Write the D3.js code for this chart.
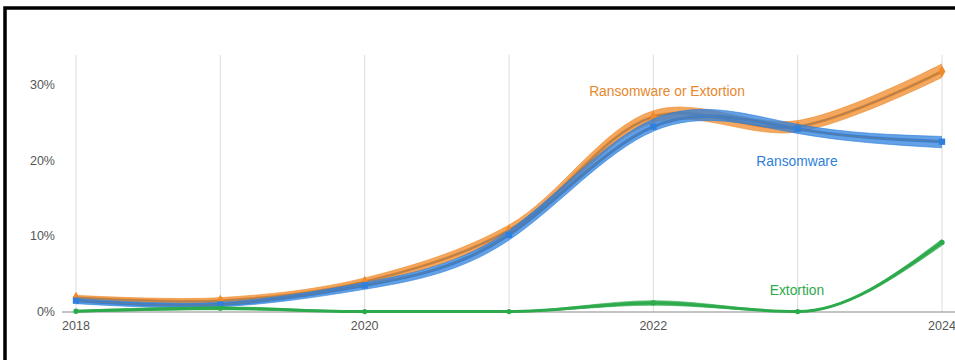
<!DOCTYPE html>
<html>
<head>
<meta charset="utf-8">
<script src="https://cdn.jsdelivr.net/npm/d3@7"></script>
<style>
  body { margin: 0; background: #fff; }
  svg { display: block; font-family: "Liberation Sans", Arial, sans-serif; }
</style>
</head>
<body>
<svg id="chart" width="955" height="360"></svg>
<script>
var years = [2018, 2019, 2020, 2021, 2022, 2023, 2024];
var yTicks = [0, 10, 20, 30];
var xTicks = [2018, 2020, 2022, 2024];

// share of incidents (%), central estimate plus a rough band
var ransomware   = [1.5, 1.0, 3.5, 10.2, 24.5, 24.2, 22.5];
var ransomwareLo = [1.1, 0.7, 3.0, 9.5, 23.9, 23.6, 21.7];
var ransomwareHi = [1.8, 1.3, 3.9, 10.8, 25.5, 24.8, 23.2];

var either   = [1.9, 1.5, 4.0, 10.8, 25.8, 24.5, 31.8];
var eitherLo = [1.6, 1.2, 3.6, 10.2, 25.0, 23.8, 31.0];
var eitherHi = [2.2, 1.9, 4.5, 11.5, 26.6, 25.3, 32.8];

var extortion   = [0.1, 0.5, 0.05, 0.05, 1.2, 0.05, 9.2];
var extortionLo = [0.0, 0.3, 0.0, 0.0, 0.9, 0.0, 8.8];
var extortionHi = [0.2, 0.7, 0.1, 0.1, 1.5, 0.1, 9.6];

var svg = d3.select('#chart');

var x = d3.scaleLinear().domain([2018, 2024]).range([76, 942]);
var y = d3.scaleLinear().domain([0, 30]).range([312, 85]);

// frame
svg.append('rect')
    .attr('x', 5).attr('y', 8)
    .attr('width', 980).attr('height', 400)
    .attr('fill', 'none')
    .attr('stroke', '#000').attr('stroke-width', 3.5);

// vertical grid
svg.append('g').selectAll('line')
    .data(years)
    .enter().append('line')
    .attr('x1', function(d) { return x(d); })
    .attr('x2', function(d) { return x(d); })
    .attr('y1', 55).attr('y2', y(0))
    .attr('stroke', '#dcdcdc').attr('stroke-width', 1);

// y labels
svg.append('g').selectAll('text')
    .data(yTicks)
    .enter().append('text')
    .attr('x', 55)
    .attr('y', function(d) { return y(d) + 4; })
    .attr('text-anchor', 'end')
    .attr('font-size', 12.5)
    .attr('fill', '#555')
    .text(function(d) { return d + '%'; });

// baseline
svg.append('line')
    .attr('x1', 62).attr('x2', 955)
    .attr('y1', y(0)).attr('y2', y(0))
    .attr('stroke', '#888').attr('stroke-width', 1);

svg.append('g').selectAll('text')
    .data(xTicks)
    .enter().append('text')
    .attr('x', function(d) { return x(d); })
    .attr('y', 330)
    .attr('text-anchor', 'middle')
    .attr('font-size', 12.5)
    .attr('fill', '#555')
    .text(function(d) { return d; });

var series = [
    { name: 'Ransomware or Extortion', mid: either, lo: eitherLo, hi: eitherHi, color: '#ef8a2a', curve: d3.curveCatmullRom, marker: 'diamond' },
    { name: 'Ransomware', mid: ransomware, lo: ransomwareLo, hi: ransomwareHi, color: '#2f80dc', curve: d3.curveNatural, marker: 'square' },
    { name: 'Extortion', mid: extortion, lo: extortionLo, hi: extortionHi, color: '#2daa4b', curve: d3.curveMonotoneX, marker: 'circle' }
];

series.forEach(function(s) {
    var line = d3.line()
        .x(function(d, i) { return x(years[i]); })
        .y(function(d) { return y(d); })
        .curve(s.curve);
    var area = d3.area()
        .x(function(d, i) { return x(years[i]); })
        .y0(function(d, i) { return y(s.lo[i]); })
        .y1(function(d, i) { return y(s.hi[i]); })
        .curve(s.curve);

    var g = svg.append('g');
    g.append('path')
        .attr('d', area(s.mid))
        .attr('fill', s.color).attr('fill-opacity', 0.75);
    [s.lo, s.hi].forEach(function(arr) {
        g.append('path')
            .attr('d', line(arr))
            .attr('fill', 'none')
            .attr('stroke', s.color).attr('stroke-width', 1)
            .attr('stroke-opacity', 0.6);
    });
    g.append('path')
        .attr('d', line(s.mid))
        .attr('fill', 'none')
        .attr('stroke', s.color).attr('stroke-width', 3);
    if (s.marker != 'circle') {
        g.append('path')
            .attr('d', line(s.mid))
            .attr('fill', 'none')
            .attr('stroke', '#7a7a7a').attr('stroke-width', 1.5)
            .attr('stroke-opacity', 0.55);
    }
    s.g = g;
});

// markers on top
series.forEach(function(s) {
    var sym = s.marker == 'square' ? d3.symbolSquare : (s.marker == 'diamond' ? d3.symbolDiamond : d3.symbolCircle);
    var size = s.marker == 'circle' ? 22 : 40;
    s.g.selectAll('.mk')
        .data(s.mid)
        .enter().append('path')
        .attr('class', 'mk')
        .attr('transform', function(d, i) { return 'translate(' + x(years[i]) + ',' + y(d) + ')'; })
        .attr('d', d3.symbol().type(sym).size(size))
        .attr('fill', s.color);
});

// direct labels
var labels = [
    { text: 'Ransomware or Extortion', x: 667, y: 96, color: '#e8872c' },
    { text: 'Ransomware', x: 797, y: 166, color: '#2f80dc' },
    { text: 'Extortion', x: 797, y: 295, color: '#2daa4b' }
];
svg.append('g').selectAll('text')
    .data(labels)
    .enter().append('text')
    .attr('x', function(d) { return d.x; })
    .attr('y', function(d) { return d.y; })
    .attr('text-anchor', 'middle')
    .attr('font-size', 13.8)
    .attr('fill', function(d) { return d.color; })
    .text(function(d) { return d.text; });
</script>
</body>
</html>
